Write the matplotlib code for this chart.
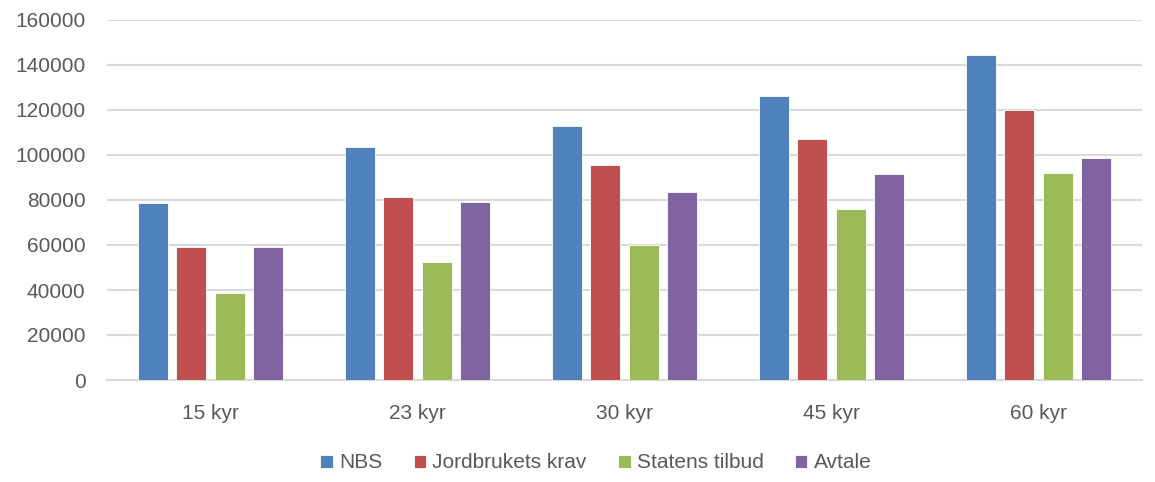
import matplotlib
matplotlib.use("Agg")
import matplotlib.pyplot as plt
import numpy as np

categories = ["15 kyr", "23 kyr", "30 kyr", "45 kyr", "60 kyr"]
series_names = ["NBS", "Jordbrukets krav", "Statens tilbud", "Avtale"]
nbs = [78500, 103500, 112800, 126400, 144600]
jordbruk = [59000, 81300, 95600, 107000, 120200]
statens = [38600, 52400, 59800, 76200, 92200]
avtale = [59000, 79100, 83700, 91600, 98500]
colors = ["#4F81BD", "#C0504D", "#9BBB59", "#8064A2"]

plt.rcParams["font.family"] = ["Liberation Sans", "DejaVu Sans"]
text_col = "#595959"

fig = plt.figure(figsize=(11.55, 4.82), dpi=100)
ax = fig.add_axes([107 / 1155, 1 - 380 / 482, 1035 / 1155, 360 / 482])

x = np.arange(len(categories))
w = 0.145
pitch = 0.184
for i, (vals, name, c) in enumerate(zip([nbs, jordbruk, statens, avtale], series_names, colors)):
    ax.bar(x + (i - 1.5) * pitch, vals, width=w, color=c, label=name,
           edgecolor="white", linewidth=0.6, zorder=3)

ax.set_xlim(-0.5, len(categories) - 0.5)
ax.set_ylim(0, 160000)
ax.set_yticks(np.arange(0, 160001, 20000))
ax.set_xticks(x)
ax.set_xticklabels(categories)
ax.yaxis.grid(True, color="#D9D9D9", linewidth=1.5, zorder=0)
ax.set_axisbelow(True)
for s in ["top", "right", "left"]:
    ax.spines[s].set_visible(False)
ax.spines["bottom"].set_color("#D9D9D9")
ax.spines["bottom"].set_linewidth(1.5)
ax.tick_params(axis="both", length=0, labelsize=15, colors=text_col)
ax.tick_params(axis="y", pad=15.5)
ax.tick_params(axis="x", pad=17)

leg = fig.legend(loc="center", bbox_to_anchor=(0.516, 1 - 463 / 482), ncol=4, frameon=False,
                 fontsize=15, handlelength=0.6, handleheight=0.6, handletextpad=0.3,
                 columnspacing=1.5)
for t in leg.get_texts():
    t.set_color(text_col)

fig.savefig("out.png", dpi=100)
